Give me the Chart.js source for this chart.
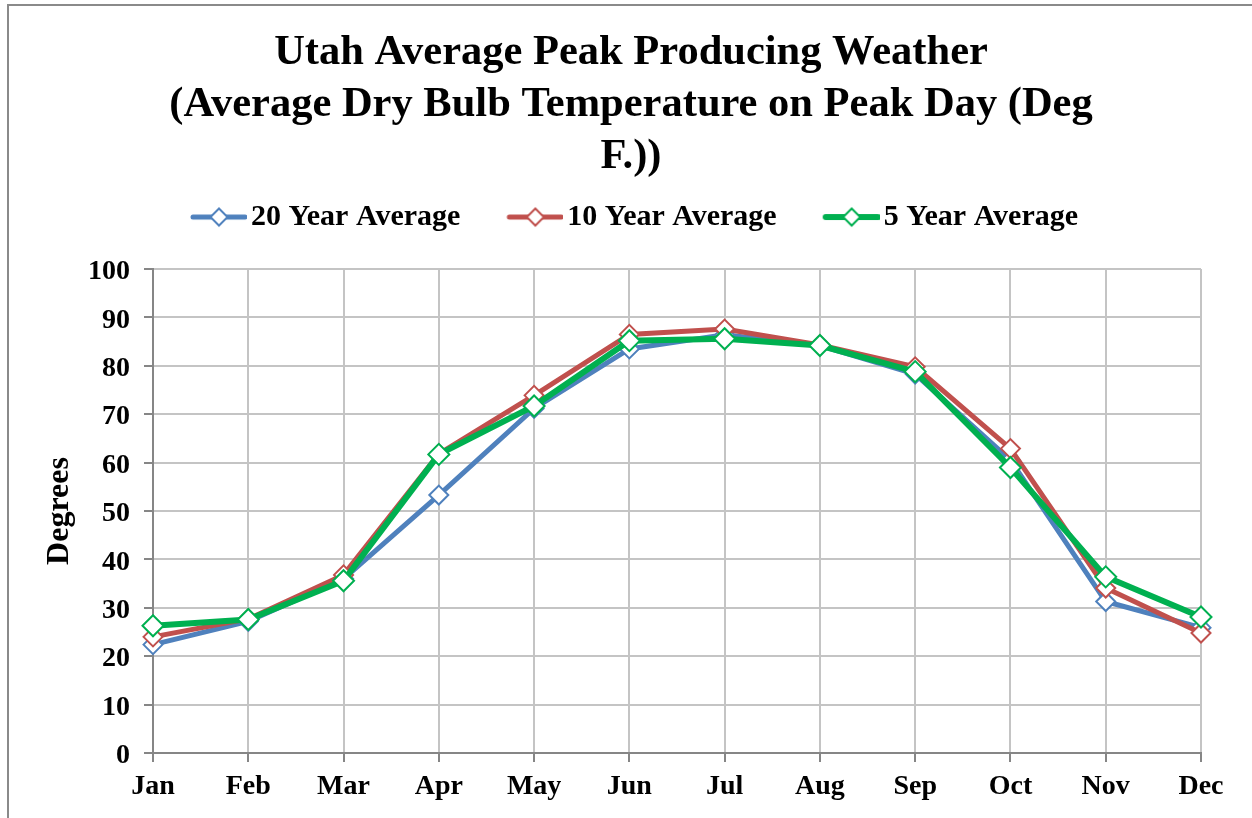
<!DOCTYPE html>
<html>
<head>
<meta charset="utf-8">
<script src="https://cdn.jsdelivr.net/npm/chart.js@4.4.1/dist/chart.umd.min.js"></script>
<style>
  html, body { margin: 0; padding: 0; background: #fff; overflow: hidden; }
  #frame {
    position: absolute; left: 7px; top: 4px; width: 1300px; height: 900px;
    border: 2px solid #8a8a8a; box-sizing: border-box;
  }
  #chartCanvas { position: absolute; left: 0; top: 0; }
</style>
</head>
<body>
<div id="frame"></div>
<canvas id="chartCanvas" width="1252" height="818"></canvas>
<script>
// chart data
const months = ['Jan', 'Feb', 'Mar', 'Apr', 'May', 'Jun', 'Jul', 'Aug', 'Sep', 'Oct', 'Nov', 'Dec'];
const avg20 = [22.4, 27.2, 36.0, 53.3, 71.2, 83.5, 86.4, 84.2, 78.3, 60.5, 31.3, 25.9];
const avg10 = [24.0, 27.7, 36.8, 61.8, 73.9, 86.5, 87.6, 84.3, 79.8, 62.9, 34.1, 24.8];
const avg5 = [26.3, 27.6, 35.6, 61.7, 71.7, 85.2, 85.6, 84.2, 78.8, 59.0, 36.4, 28.1];
const seriesNames = ['20 Year Average', '10 Year Average', '5 Year Average'];
const seriesColors = ['#4F81BD', '#C0504D', '#00B050'];
const titleLines = ['Utah Average Peak Producing Weather', '(Average Dry Bulb Temperature on Peak Day (Deg', 'F.))'];

const serif = "'Liberation Serif', 'Times New Roman', serif";

// legend icon: line with a diamond, left part left transparent for spacing
function makeLegendIcon(color, lineW) {
    const c = document.createElement('canvas');
    c.width = 104;
    c.height = 26;
    const g = c.getContext('2d');
    const x0 = 48;
    const cy = 13;
    g.strokeStyle = color;
    g.lineWidth = lineW;
    g.lineCap = 'round';
    g.beginPath();
    g.moveTo(x0 + 2, cy);
    g.lineTo(x0 + 54, cy);
    g.stroke();
    const cx = x0 + 28, r = 8.5;
    g.fillStyle = '#fff';
    g.lineWidth = 2;
    g.beginPath();
    g.moveTo(cx - r, cy);
    g.lineTo(cx, cy - r);
    g.lineTo(cx + r, cy);
    g.lineTo(cx, cy + r);
    g.closePath();
    g.fill();
    g.stroke();
    return c;
}

const legendIcons = [
    makeLegendIcon(seriesColors[0], 5),
    makeLegendIcon(seriesColors[1], 5),
    makeLegendIcon(seriesColors[2], 6)
];

// legend height and position tweak
const legendTweak = {
    id: 'legendTweak',
    beforeLayout(chart) {
        const legend = chart.legend;
        if (legend && !legend._patched) {
            const fit = legend.fit;
            legend.fit = function () {
                fit.call(this);
                this.height = 77;
            };
            legend._patched = true;
        }
    },
    afterLayout(chart) {
        chart.legend.left -= 15;
        chart.legend.right -= 15;
    }
};

function makeDataset(i, values, lineW, radius, order) {
    return {
        label: seriesNames[i],
        data: values,
        borderColor: seriesColors[i],
        backgroundColor: '#ffffff',
        borderWidth: lineW,
        pointStyle: 'rectRot',
        pointRadius: radius,
        pointBorderWidth: 2,
        pointBackgroundColor: '#ffffff',
        pointBorderColor: seriesColors[i],
        tension: 0,
        fill: false,
        order: order
    };
}

const gridColor = '#c4c4c4';
const axisColor = '#868686';

new Chart(document.getElementById('chartCanvas').getContext('2d'), {
    type: 'line',
    data: {
        labels: months,
        datasets: [
            makeDataset(0, avg20, 5, 9.5, 3),
            makeDataset(1, avg10, 5, 9.5, 2),
            makeDataset(2, avg5, 6, 10.5, 1)
        ]
    },
    options: {
        responsive: false,
        devicePixelRatio: 1,
        animation: false,
        layout: { padding: { left: 10, right: 0, top: 0, bottom: 0 } },
        plugins: {
            tooltip: { enabled: false },
            title: {
                display: true,
                text: titleLines,
                color: '#000',
                font: { family: serif, size: 42.5, weight: 'bold', lineHeight: 1.224 },
                padding: { top: 27, bottom: 9 }
            },
            legend: {
                display: true,
                position: 'top',
                labels: {
                    usePointStyle: true,
                    pointStyleWidth: 82,
                    padding: 10,
                    color: '#000',
                    font: { family: serif, size: 30, weight: 'bold' },
                    generateLabels: chart => chart.data.datasets.map((ds, i) => ({
                        text: ds.label,
                        pointStyle: legendIcons[i],
                        fillStyle: '#fff',
                        strokeStyle: ds.borderColor,
                        lineWidth: 0,
                        hidden: false,
                        fontColor: '#000',
                        datasetIndex: i
                    }))
                }
            }
        },
        scales: {
            x: {
                type: 'category',
                offset: false,
                grid: {
                    display: true,
                    offset: false,
                    color: gridColor,
                    lineWidth: 2,
                    tickLength: 9,
                    tickColor: axisColor,
                    tickWidth: 2
                },
                border: { display: true, color: axisColor, width: 2 },
                ticks: {
                    color: '#000',
                    padding: 8,
                    maxRotation: 0,
                    autoSkip: false,
                    font: { family: serif, size: 28, weight: 'bold' }
                },
                afterFit(scale) { scale.height = 65; }
            },
            y: {
                position: 'left',
                min: 0,
                max: 100,
                grid: {
                    color: gridColor,
                    lineWidth: 2,
                    tickLength: 9,
                    tickColor: axisColor,
                    tickWidth: 2
                },
                border: { display: true, color: axisColor, width: 2 },
                ticks: {
                    stepSize: 10,
                    color: '#000',
                    padding: 14,
                    labelOffset: 3,
                    font: { family: serif, size: 28, weight: 'bold' }
                },
                title: {
                    display: true,
                    text: 'Degrees',
                    color: '#000',
                    font: { family: serif, size: 32, weight: 'bold' },
                    padding: { top: 31, bottom: 0 }
                },
                afterFit(scale) { scale.width = 143; }
            },
            yRight: {
                position: 'right',
                display: true,
                min: 0,
                max: 100,
                grid: { display: false, drawTicks: false },
                border: { display: false },
                ticks: { display: false },
                afterFit(scale) { scale.width = 51; }
            }
        }
    },
    plugins: [legendTweak]
});
</script>
</body>
</html>
